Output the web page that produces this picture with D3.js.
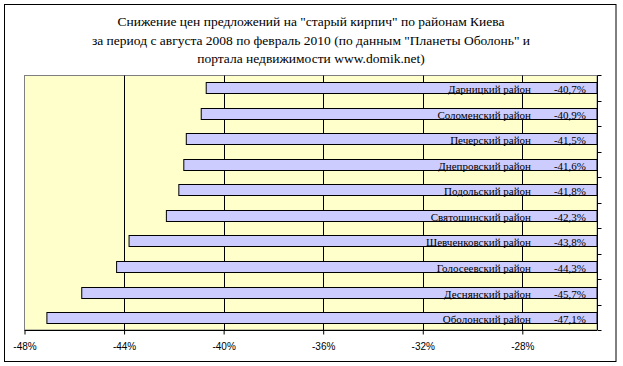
<!DOCTYPE html>
<html>
<head>
<meta charset="utf-8">
<script src="https://cdn.jsdelivr.net/npm/d3@7"></script>
<style>
  body { margin: 0; background: #fff; }
  .title { font-family: "Liberation Serif", "Times New Roman", serif; font-size: 13.5px; }
  .lbl { font-family: "Liberation Serif", "Times New Roman", serif; font-size: 11px; }
  .tick text { font-family: "Liberation Sans", Arial, sans-serif; font-size: 10px; }
</style>
</head>
<body>
<svg id="chart" width="623" height="366"></svg>
<script>
// districts, top to bottom
let districts = ["Дарницкий район", "Соломенский район", "Печерский район", "Днепровский район",
  "Подольский район", "Святошинский район", "Шевченковский район", "Голосеевский район",
  "Деснянский район", "Оболонский район"]
let change = [-40.7, -40.9, -41.5, -41.6, -41.8, -42.3, -43.8, -44.3, -45.7, -47.1]
let ticks = [-48, -44, -40, -36, -32, -28]
let title_lines = [
  "Снижение цен предложений на \"старый кирпич\" по районам Киева",
  "за период с августа 2008 по февраль 2010  (по данным \"Планеты Оболонь\" и",
  "портала недвижимости www.domik.net)"
]

let width = 623, height = 366
let margins = {left: 24.5, right: 26, top: 75.5, bottom: 36}

let svg = d3.select("#chart")

// outer frame
svg.append("rect")
  .attr("x", 4.5).attr("y", 4.5)
  .attr("width", 611.5).attr("height", 357)
  .attr("fill", "#fff").attr("stroke", "#000")

let x = d3.scaleLinear()
  .domain([-48, -25])
  .range([margins.left, width - margins.right])
let y = d3.scaleBand()
  .domain(districts)
  .range([margins.top, height - margins.bottom])
  .paddingInner(0.56).paddingOuter(0.26)

let fmt = v => d3.format(".1f")(v).replace(".", ",").replace("−", "-") + "%"

// plot area
svg.append("rect")
  .attr("x", x(-48)).attr("y", margins.top)
  .attr("width", x(-25) - x(-48)).attr("height", height - margins.bottom - margins.top)
  .attr("fill", "#FFFFCC").attr("stroke", "#808080")

// gridlines
svg.append("g").selectAll("line")
  .data(ticks.slice(1)).enter()
  .append("line")
  .attr("x1", d => Math.round(x(d)) + 0.5).attr("x2", d => Math.round(x(d)) + 0.5)
  .attr("y1", margins.top).attr("y2", height - margins.bottom)
  .attr("stroke", "#000")

// bars
svg.append("g").selectAll("rect")
  .data(districts).enter()
  .append("rect")
  .attr("x", (d, i) => x(change[i]))
  .attr("y", d => Math.round(y(d)) + 0.5)
  .attr("width", (d, i) => x(-25) - x(change[i]))
  .attr("height", Math.round(y.bandwidth()))
  .attr("fill", "#CCCCFF").attr("stroke", "#000")

// labels inside bars
let base = d => Math.round(y(d)) + Math.round(y.bandwidth()) - 0.5
svg.append("g").selectAll("text")
  .data(districts).enter()
  .append("text")
  .attr("class", "lbl")
  .attr("x", x(-25) - 66).attr("y", base)
  .attr("text-anchor", "end")
  .text(d => d)
svg.append("g").selectAll("text")
  .data(districts).enter()
  .append("text")
  .attr("class", "lbl")
  .attr("x", x(-25) - 11).attr("y", base)
  .attr("text-anchor", "end")
  .text((d, i) => fmt(change[i]))

// bottom axis
let x_axis = svg.append("g")
  .attr("transform", `translate(0, ${height - margins.bottom + 0.5})`)
  .call(d3.axisBottom(x).tickValues(ticks).tickSize(4).tickPadding(8).tickFormat(d => d + "%"))
x_axis.select(".domain").attr("stroke", "#000").attr("d", `M${x(-48)},0H${x(-25)}`)
x_axis.selectAll(".tick line").attr("stroke", "#000")

// right category axis with ticks at band edges
let edges = districts.map(d => y(d) - y.step() * y.paddingInner() / 2)
edges.push(height - margins.bottom)
let r = Math.round(x(-25)) + 0.5
svg.append("line")
  .attr("x1", r).attr("x2", r)
  .attr("y1", margins.top).attr("y2", height - margins.bottom)
  .attr("stroke", "#000")
svg.append("g").selectAll("line")
  .data(edges).enter()
  .append("line")
  .attr("x1", r).attr("x2", r + 4)
  .attr("y1", d => Math.round(d) + 0.5).attr("y2", d => Math.round(d) + 0.5)
  .attr("stroke", "#000")

// title
svg.append("g").selectAll("text")
  .data(title_lines).enter()
  .append("text")
  .attr("class", "title")
  .attr("x", 311).attr("y", (d, i) => 26 + i * 18.5)
  .attr("text-anchor", "middle")
  .text(d => d)
</script>
</body>
</html>
